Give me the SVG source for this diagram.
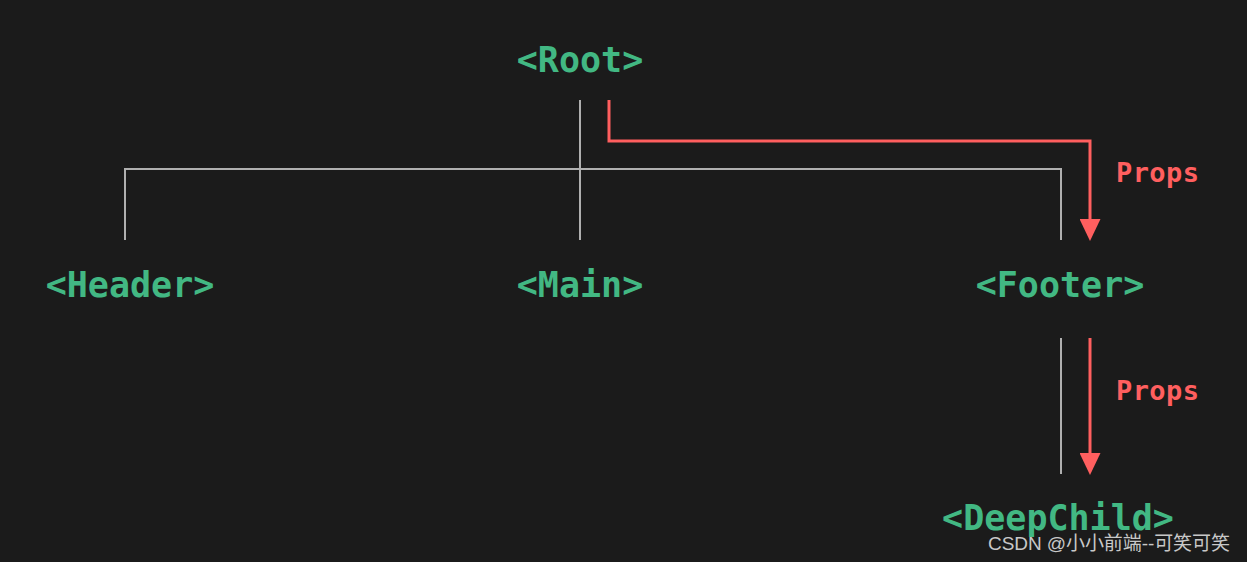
<svg xmlns="http://www.w3.org/2000/svg" width="1247" height="562" viewBox="0 0 1247 562">
<defs>
<style>
.node{font-family:"DejaVu Sans Mono","Liberation Mono",monospace;font-weight:bold;font-size:35px;fill:#42b883;text-anchor:middle}
.tree{stroke:#b0b0b0;stroke-width:2;fill:none}
.prop{stroke:#ff5f5f;stroke-width:3;fill:none}
.lbl{font-family:"DejaVu Sans Mono","Liberation Mono",monospace;font-weight:bold;font-size:27px;fill:#ff5f5f}
.wm{font-family:"Liberation Sans","Noto Sans CJK SC",sans-serif;font-size:19px;fill:#c8c8c8}
</style>
<marker id="arr" markerWidth="8" markerHeight="7" refX="0" refY="3.5" orient="auto" markerUnits="strokeWidth" viewBox="0 0 8 7">
<path d="M0,0 L7.3,3.5 L0,7 z" fill="#ff5f5f"/>
</marker>
</defs>
<rect width="1247" height="562" fill="#1b1b1b"/>
<g id="connectors">
<path class="tree" d="M580,100 V240"/>
<path class="tree" d="M125,240 V169 H1061 V240"/>
<path class="tree" d="M1061,338 V474"/>
<path class="prop" d="M609,100 V141 H1090 V219" marker-end="url(#arr)"/>
<path class="prop" d="M1090,338 V453" marker-end="url(#arr)"/>
<text class="lbl" x="1116" y="182" textLength="83">Props</text>
<text class="lbl" x="1116" y="400" textLength="83">Props</text>
</g>
<g id="root"><text class="node" x="580" y="72">&lt;Root&gt;</text></g>
<g id="header"><text class="node" x="130" y="297">&lt;Header&gt;</text></g>
<g id="main"><text class="node" x="580" y="297">&lt;Main&gt;</text></g>
<g id="footer"><text class="node" x="1060" y="297">&lt;Footer&gt;</text></g>
<g id="deepchild"><text class="node" x="1058" y="530">&lt;DeepChild&gt;</text></g>
<text class="wm" x="988" y="550" textLength="242">CSDN @小小前端--可笑可笑</text>
</svg>
